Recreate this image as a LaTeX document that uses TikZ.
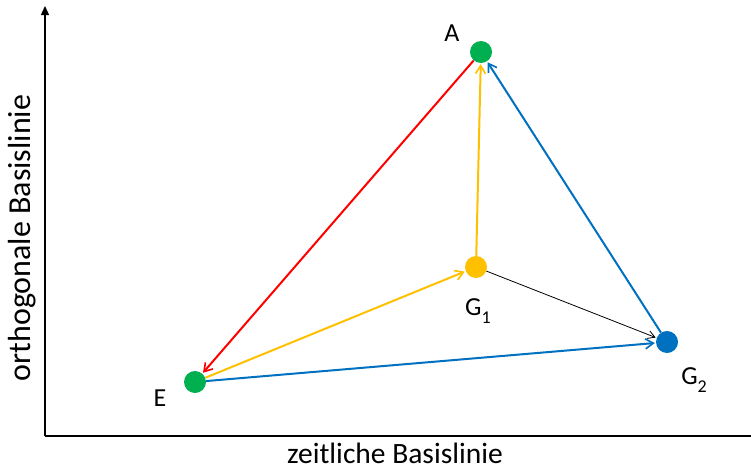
\documentclass[tikz,border=0pt]{standalone}
\usepackage{fontspec}
\setmainfont{Carlito}
\usetikzlibrary{arrows.meta}
\definecolor{cgreen}{HTML}{00B050}
\definecolor{cyellow}{HTML}{FFC000}
\definecolor{cblue}{HTML}{0070C0}
\definecolor{cred}{HTML}{FF0000}
\newcommand{\mysub}[1]{\raisebox{-0.28em}{\fontsize{18}{18}\selectfont #1}}
\begin{document}
\begin{tikzpicture}[x=1pt,y=-1pt,
  dot/.style={circle,inner sep=0pt,minimum size=22pt},
  lbl/.style={font=\fontsize{26}{30}\selectfont,inner sep=0pt},
  conn/.style={line width=2pt,-{Straight Barb[length=8pt,width=10pt,line width=1.6pt]},shorten >=1pt},
  thinconn/.style={line width=0.8pt,black,-{Straight Barb[length=7pt,width=8pt,line width=0.8pt]},shorten >=1pt}]
\useasboundingbox (0,0) rectangle (751,471);
% axes
\coordinate (o) at (45,436);
\coordinate (ytop) at (45,6);
\coordinate (xend) at (751,436);
\draw[line width=1.4pt,-{Triangle[length=9pt,width=8pt]}] (o) -- (ytop);
\draw[line width=1.4pt] (o) -- (xend);
\node[lbl,font=\fontsize{29.5}{34}\selectfont,anchor=base] (xl) at (395,463) {zeitliche Basislinie};
\node[lbl,rotate=90,font=\fontsize{32}{36}\selectfont] (yl) at (22,238) {orthogonale Basislinie};
% points
\node[dot,fill=cgreen] (A) at (481,52) {};
\node[dot,fill=cyellow] (G1) at (476,267) {};
\node[dot,fill=cblue] (G2) at (667,342) {};
\node[dot,fill=cgreen] (E) at (195,382) {};
% labels
\node[lbl] (lA) at (452,33) {A};
\node[lbl] (lG1) at (478,311) {G\mysub{1}};
\node[lbl] (lG2) at (694,380) {G\mysub{2}};
\node[lbl] (lE) at (160,398) {E};
% connectors
\draw[conn,cred] (A) -- (E);
\draw[conn,cyellow] (G1) -- (A);
\draw[conn,cyellow] (E) -- (G1);
\draw[conn,cblue] (G2) -- (A);
\draw[conn,cblue] (E) -- (G2);
\draw[thinconn] (G1) -- (G2);
\end{tikzpicture}
\end{document}
